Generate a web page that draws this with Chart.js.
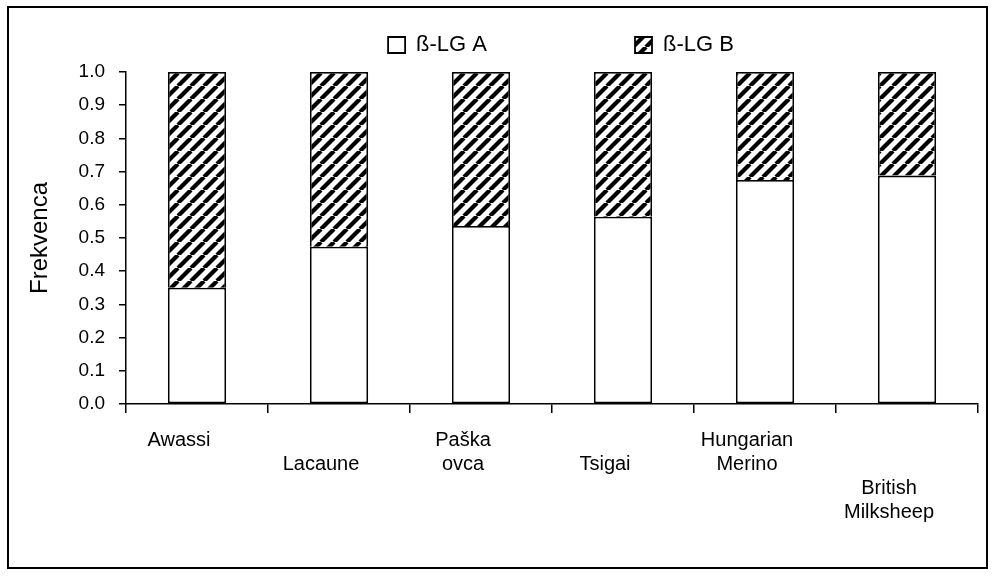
<!DOCTYPE html>
<html>
<head>
<meta charset="utf-8">
<script src="https://cdn.jsdelivr.net/npm/chart.js@4.4.0/dist/chart.umd.min.js"></script>
<style>
  html, body { margin: 0; padding: 0; background: #fff; }
  #frame { position: absolute; left: 7px; top: 6px; width: 977px; height: 559px; border: 2px solid #000; }
</style>
</head>
<body>
<div id="frame"><canvas id="chart" width="977" height="559"></canvas></div>
<script>
// staggered category labels, as in the original
const breeds = [['Awassi'], ['', 'Lacaune'], ['Paška', 'ovca'], ['', 'Tsigai'], ['Hungarian', 'Merino'], ['', '', 'British', 'Milksheep']];
const lgA = [0.35, 0.474, 0.536, 0.564, 0.675, 0.688];
const lgB = [0.65, 0.526, 0.464, 0.436, 0.325, 0.312];
const yTickLabels = ['0.0', '0.1', '0.2', '0.3', '0.4', '0.5', '0.6', '0.7', '0.8', '0.9', '1.0'];

const font = "'Liberation Sans', Arial, sans-serif";
const ctx = document.getElementById('chart').getContext('2d');

function hatch() {
  const c = document.createElement('canvas');
  c.width = 13; c.height = 13;
  const g = c.getContext('2d');
  g.fillStyle = '#fff';
  g.fillRect(0, 0, 13, 13);
  g.strokeStyle = '#000';
  g.lineWidth = 4.2;
  for (const x0 of [-13, 0, 13]) {
    g.beginPath();
    g.moveTo(x0, 13);
    g.lineTo(x0 + 13, 0);
    g.stroke();
  }
  return ctx.createPattern(c, 'repeat');
}

// nudge the legend: in the original it sits right of centre and close to the top
const legendShift = {
  id: 'legendShift',
  afterLayout(chart) {
    const lg = chart.legend;
    lg.left += 9; lg.right += 9;
    lg.top -= 6; lg.bottom -= 6;
  }
};

const chart = new Chart(ctx, {
  type: 'bar',
  data: {
    labels: breeds,
    datasets: [{
      label: 'ß-LG A',
      data: lgA,
      backgroundColor: '#fff',
      borderColor: '#000',
      borderWidth: 1.8,
      borderSkipped: false
    }, {
      label: 'ß-LG B',
      data: lgB,
      backgroundColor: hatch(),
      borderColor: '#000',
      borderWidth: 1.8,
      borderSkipped: 'start'
    }]
  },
  options: {
    responsive: false,
    animation: false,
    layout: { padding: { top: -116, right: 8, bottom: 0, left: 0 } },
    datasets: { bar: { categoryPercentage: 1, barPercentage: 0.41 } },
    plugins: {
      tooltip: { enabled: false },
      legend: {
        position: 'top',
        fullSize: false,
        labels: {
          color: '#000',
          font: { family: font, size: 22 },
          boxWidth: 17,
          boxHeight: 16,
          padding: 148
        }
      }
    },
    scales: {
      x: {
        stacked: true,
        border: { color: '#000', width: 1.5 },
        grid: { offset: true, drawOnChartArea: false, drawTicks: true, tickLength: 9, color: '#000', lineWidth: 1.5 },
        ticks: {
          color: '#000',
          font: { family: font, size: 20, lineHeight: 1.2 },
          padding: 15,
          labelOffset: -18,
          maxRotation: 0,
          autoSkip: false
        },
        afterFit(axis) { axis.height = 163; }
      },
      y: {
        stacked: true,
        min: 0,
        max: 1,
        border: { color: '#000', width: 1.5 },
        grid: { drawOnChartArea: false, drawTicks: true, tickLength: 7, color: '#000', lineWidth: 1.5 },
        ticks: {
          stepSize: 0.1,
          color: '#000',
          font: { family: font, size: 19 },
          padding: 14,
          callback: (v, i) => yTickLabels[i]
        },
        title: {
          display: true,
          text: 'Frekvenca',
          color: '#000',
          font: { family: font, size: 24 },
          padding: { top: 17, bottom: 0 }
        },
        afterFit(axis) { axis.width = 117; }
      }
    }
  },
  plugins: [legendShift]
});
</script>
</body>
</html>
